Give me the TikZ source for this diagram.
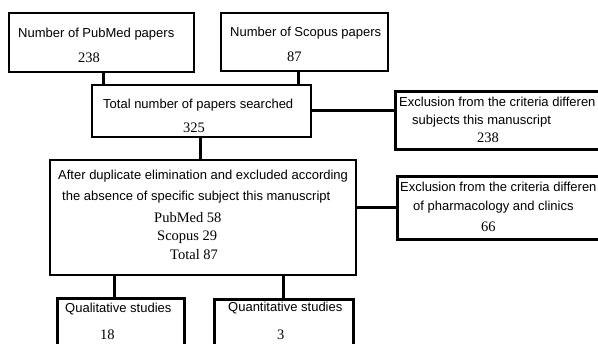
\documentclass[tikz,border=0pt]{standalone}
\usepackage{fontspec}
\newfontfamily\sansf{Liberation Sans}
\newfontfamily\serf{Liberation Serif}
\begin{document}
\begin{tikzpicture}[x=1pt,y=-1pt,
  box/.style={draw, line width=2.8pt, rectangle, inner sep=0pt},
  conn/.style={line width=3pt},
  lab/.style={anchor=base west, inner sep=0pt, font=\sansf\fontsize{13}{15}\selectfont},
  num/.style={anchor=base west, inner sep=0pt, font=\serf\fontsize{14.5}{17}\selectfont}]
\useasboundingbox (0,0) rectangle (598,344);
\clip (0,0) rectangle (598,344);
\fill[white] (0,0) rectangle (598,344);
% boxes
\node[box, minimum width=185pt, minimum height=59pt] (b1) at (101.5,42.5) {};
\node[box, minimum width=167pt, minimum height=58pt] (b2) at (304.5,42) {};
\node[box, minimum width=219pt, minimum height=52pt] (b3) at (201.5,111) {};
\node[box, minimum width=306pt, minimum height=115pt] (b4) at (203,217.5) {};
\node[box, anchor=north west, minimum width=240pt, minimum height=58pt] (e1) at (394,90) {};
\node[box, anchor=north west, minimum width=240pt, minimum height=63pt] (e2) at (396,175) {};
\node[box, anchor=north west, minimum width=127pt, minimum height=70pt] (q1) at (56,297) {};
\node[box, anchor=north west, minimum width=139pt, minimum height=70pt] (q2) at (213,298) {};
% connectors
\draw[conn] ([xshift=1.5pt]b1.south) -- ([xshift=1.5pt]b1.south |- b3.north);
\draw[conn] ([xshift=-6.5pt]b2.south) -- ([xshift=-6.5pt]b2.south |- b3.north);
\draw[conn] ([xshift=-1.5pt]b3.south) -- ([xshift=-1.5pt]b3.south |- b4.north);
\draw[conn] (b3.east) -- (b3.east -| e1.west);
\draw[conn] (e2.west -| b4.east) -- (e2.west);
\draw[conn] ([xshift=-6.5pt]q1.north |- b4.south) -- ([xshift=-6.5pt]q1.north);
\draw[conn] (q2.north |- b4.south) -- (q2.north);
% texts
\node[lab] (t1) at (18,38) {Number of PubMed papers};
\node[num] (n1) at (78,63) {238};
\node[lab] (t2) at (230,37) {Number of Scopus papers};
\node[num] (n2) at (287,62) {87};
\node[lab] (t3) at (103,109) {Total number of papers searched};
\node[num] (n3) at (183,133) {325};
\node[lab] (t4a) at (58,179.5) {After duplicate elimination and excluded according};
\node[lab] (t4b) at (62,201) {the absence of specific subject this manuscript};
\node[num] (t4c) at (154,223) {PubMed 58};
\node[num] (t4d) at (157,241) {Scopus 29};
\node[num] (t4e) at (170,260) {Total 87};
\node[lab] (t5a) at (399,106.5) {Exclusion from the criteria differen};
\node[lab] (t5b) at (412,125) {subjects this manuscript};
\node[num] (n5) at (477,143) {238};
\node[lab] (t6a) at (400,191.5) {Exclusion from the criteria differen};
\node[lab] (t6b) at (413,211) {of pharmacology and clinics};
\node[num] (n6) at (481,232) {66};
\node[lab] (t7) at (65,313) {Qualitative studies};
\node[num] (n7) at (100,340) {18};
\node[lab] (t8) at (228,312) {Quantitative studies};
\node[num] (n8) at (277,340) {3};
\end{tikzpicture}
\end{document}
